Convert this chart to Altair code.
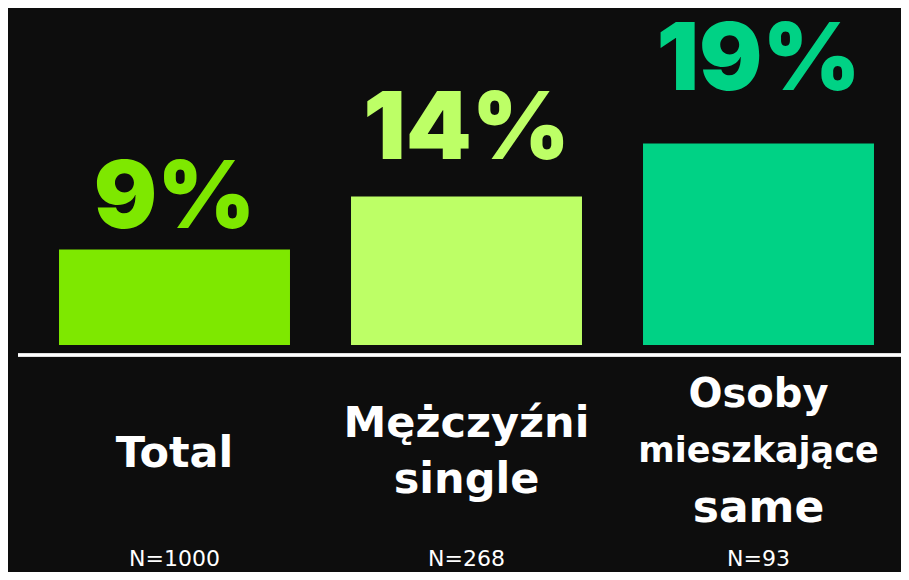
import altair as alt
import pandas as pd

# ---- data ----
CATEGORIES = ["Total", "Mężczyźni single", "Osoby mieszkające same"]
VALUES = [9, 14, 19]
PCT_LABELS = ["9%", "14%", "19%"]
N_LABELS = ["N=1000", "N=268", "N=93"]
LINE1 = ["Total", "Mężczyźni", "Osoby"]
LINE2 = ["", "single", "mieszkające"]
LINE3 = ["", "", "same"]
COLORS = ["#7EE800", "#BDFF66", "#00D285"]

df = pd.DataFrame({
    "category": CATEGORIES,
    "value": VALUES,
    "pct": PCT_LABELS,
    "n": N_LABELS,
    "line1": LINE1,
    "line2": LINE2,
    "line3": LINE3,
})

W, H = 893, 564
BG = "#0d0d0d"
LABEL_FONT = "DejaVu Sans"

x_enc = alt.X("category:N", sort=CATEGORIES, axis=None,
              scale=alt.Scale(range=[20.5, 896.5], paddingInner=0.209, paddingOuter=0.1045))
color_enc = alt.Color("category:N", sort=CATEGORIES, legend=None,
                      scale=alt.Scale(domain=CATEGORIES, range=COLORS))
bar_scale = alt.Scale(domain=[-21.42, 31.79], nice=False, zero=False)
lab_scale = alt.Scale(domain=[-15.94, 24.93], nice=False, zero=False)

base = alt.Chart(df)

bars = base.mark_bar(cornerRadius=0).encode(
    x=x_enc,
    y=alt.Y("value:Q", scale=bar_scale, axis=None),
    y2=alt.datum(0),
    color=color_enc,
)

rule = base.mark_rule(color="white", strokeWidth=3, yOffset=10).encode(
    x=alt.value(10), x2=alt.value(W),
    y=alt.datum(0, scale=bar_scale, axis=None),
)

pct = base.mark_text(font="Inter", fontWeight=900, fontSize=94,
                     baseline="alphabetic", align="center").encode(
    x=x_enc,
    y=alt.Y("value:Q", scale=lab_scale, axis=None),
    text="pct:N",
    color=color_enc,
)

nlab = base.mark_text(font=LABEL_FONT, fontSize=22, color="white",
                      baseline="alphabetic", align="center").encode(
    x=x_enc, y=alt.value(558), text="n:N")


def line_layer(cat, field, ypos, size):
    return base.transform_filter(alt.datum.category == cat).mark_text(
        font=LABEL_FONT, fontWeight="bold", fontSize=size, color="white",
        baseline="alphabetic", align="center",
    ).encode(x=x_enc, y=alt.value(ypos), text=f"{field}:N")


labels = [
    line_layer(CATEGORIES[0], "line1", 459, 43),
    line_layer(CATEGORIES[1], "line1", 429, 43),
    line_layer(CATEGORIES[1], "line2", 485, 43),
    line_layer(CATEGORIES[2], "line1", 399, 40),
    line_layer(CATEGORIES[2], "line2", 454, 35),
    line_layer(CATEGORIES[2], "line3", 514, 44),
]

chart = alt.layer(bars, rule, pct, nlab, *labels).resolve_scale(
    y="independent"
).properties(
    width=W, height=H, background=BG, padding=0,
    autosize=alt.AutoSizeParams(type="none"),
).configure_view(stroke=None, fill=BG)

chart.save("out.html", embed_options={"renderer": "svg", "actions": False})
